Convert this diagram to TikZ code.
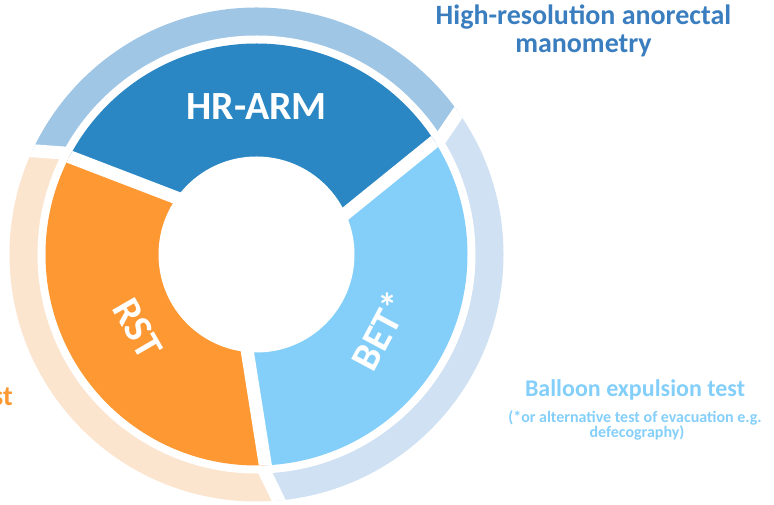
\documentclass[tikz,border=0pt]{standalone}
\usepackage{fontspec}
\setmainfont{Carlito}
\usetikzlibrary{calc}

\definecolor{armblue}{HTML}{2B87C4}
\definecolor{armring}{HTML}{A0C6E6}
\definecolor{betblue}{HTML}{84CFFA}
\definecolor{betring}{HTML}{CFE1F2}
\definecolor{rstorange}{HTML}{FD9833}
\definecolor{rstring}{HTML}{FCE5CF}
\definecolor{titleblue}{HTML}{3A7EBF}

\begin{document}
\begin{tikzpicture}[x=1pt,y=1pt,
  gapline/.style={draw=white, line width=13pt},
  seglabel/.style={text=white, inner sep=0pt, font=\fontsize{40}{40}\selectfont\bfseries},
  caption/.style={anchor=base, inner sep=0pt, font=\fontsize{#1}{#1}\selectfont\bfseries},
  caption/.default=24]
\useasboundingbox (0,0) rectangle (774,505);

\begin{scope}[shift={(256.5,250.5)}]
  % cut lines of the outer ring (tilted 22 degrees from radial)
  \coordinate (rAo) at ($(33.8:232.5)+(55.8:100)$);
  \coordinate (rAi) at ($(33.8:232.5)+(235.8:60)$);
  \coordinate (rBo) at ($(153.8:232.5)+(175.8:100)$);
  \coordinate (rBi) at ($(153.8:232.5)+(355.8:60)$);
  \coordinate (rCo) at ($(273.8:232.5)+(295.8:100)$);
  \coordinate (rCi) at ($(273.8:232.5)+(115.8:60)$);
  % cut lines of the inner segments (tilted 9 degrees from radial)
  \coordinate (sAo) at ($(30:155)+(39:120)$);
  \coordinate (sAi) at ($(30:155)+(219:70)$);
  \coordinate (sBo) at ($(150:155)+(159:120)$);
  \coordinate (sBi) at ($(150:155)+(339:70)$);
  \coordinate (sCo) at ($(270:155)+(279:120)$);
  \coordinate (sCi) at ($(270:155)+(99:70)$);

  % outer ring
  \begin{scope}
    \clip (0,0) circle (247);
    \fill[armring] (rAi) -- (rAo) -- (93.8:600) -- (rBo) -- (rBi) -- cycle;
    \fill[rstring] (rBi) -- (rBo) -- (213.8:600) -- (rCo) -- (rCi) -- cycle;
    \fill[betring] (rCi) -- (rCo) -- (333.8:600) -- (rAo) -- (rAi) -- cycle;
    \draw[gapline] (rAi) -- (rAo);
    \draw[gapline] (rBi) -- (rBo);
    \draw[gapline] (rCi) -- (rCo);
  \end{scope}
  \fill[white] (0,0) circle (219);

  % inner segments
  \begin{scope}
    \clip (0,0) circle (211);
    \fill[armblue] (sAi) -- (sAo) -- (90:600) -- (sBo) -- (sBi) -- cycle;
    \fill[rstorange] (sBi) -- (sBo) -- (210:600) -- (sCo) -- (sCi) -- cycle;
    \fill[betblue] (sCi) -- (sCo) -- (330:600) -- (sAo) -- (sAi) -- cycle;
    \draw[gapline] (sAi) -- (sAo);
    \draw[gapline] (sBi) -- (sBo);
    \draw[gapline] (sCi) -- (sCo);
  \end{scope}
  \fill[white] (0,0) circle (98);

  % segment labels
  \node[seglabel] (hrarm) at (0,148) {HR-ARM};
  \node[seglabel, rotate=-60] (rst) at (-119,-74) {RST};
  \node[seglabel, rotate=62] (bet) at (124,-76) {BET*};
\end{scope}

% captions
\node[caption=28, text=titleblue] (hrmA) at (583.5,480) {High-resolution anorectal};
\node[caption=28, text=titleblue] (hrmB) at (583.5,452) {manometry};
\node[caption=24, text=betblue] (betA) at (635,108) {Balloon expulsion test};
\node[caption=16, text=betblue] (betB) at (635,82) {(*or alternative test of evacuation e.g.};
\node[caption=16, text=betblue] (betC) at (637,67) {defecography)};
\node[caption=28, anchor=base east, text=rstorange] (rstA) at (13,99) {st};
\end{tikzpicture}
\end{document}
